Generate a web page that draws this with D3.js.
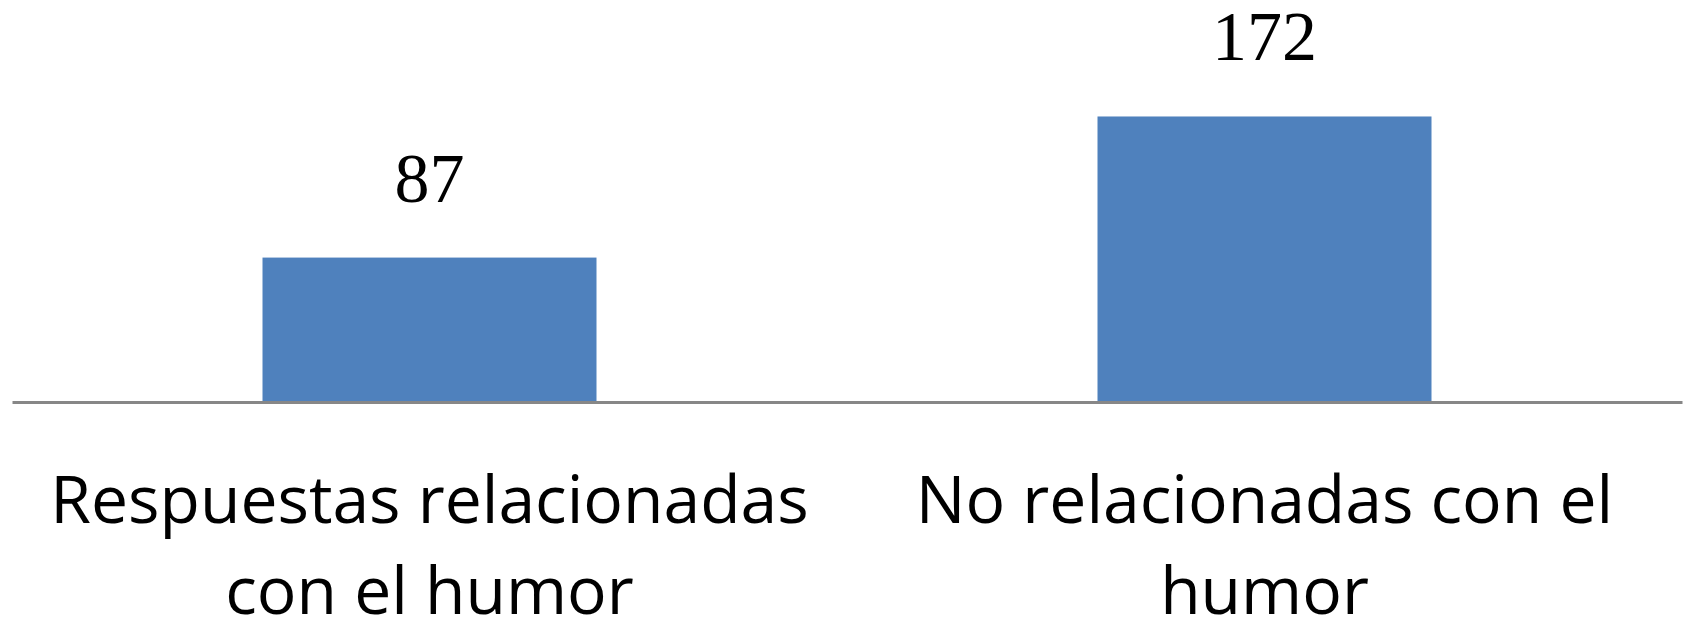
<!DOCTYPE html>
<html>
<head>
<meta charset="utf-8">
<script src="https://cdn.jsdelivr.net/npm/d3@7"></script>
<style>
  body { margin: 0; background: #fff; }
</style>
</head>
<body>
<script>
var w = 1684;
var h = 619;

// data
var categories = ["Respuestas relacionadas con el humor", "No relacionadas con el humor"];
var values = [87, 172];

var svg = d3.select("body")
    .append("svg")
    .attr("width", w)
    .attr("height", h);

var x = d3.scaleBand()
    .domain(categories)
    .range([12, 1682])
    .paddingInner(0.6)
    .paddingOuter(0.3);

var y = d3.scaleLinear()
    .domain([0, 200])
    .range([402, 70]);

// bars
svg.selectAll("rect.bar")
  .data(values)
  .enter().append("rect")
    .attr("class", "bar")
    .attr("x", function(d, i) { return x(categories[i]); })
    .attr("width", x.bandwidth())
    .attr("y", function(d) { return y(d); })
    .attr("height", function(d) { return y(0) - y(d); })
    .attr("fill", "#4F81BD");

// data labels
svg.selectAll("text.value")
  .data(values)
  .enter().append("text")
    .attr("class", "value")
    .attr("x", function(d, i) { return x(categories[i]) + x.bandwidth() / 2; })
    .attr("y", function(d) { return y(d) - 56; })
    .attr("text-anchor", "middle")
    .attr("font-family", "'Liberation Serif', 'Times New Roman', serif")
    .attr("font-size", 70)
    .attr("fill", "#000")
    .text(function(d) { return d; });

// category axis, just the baseline
var axis = svg.append("g")
    .attr("transform", "translate(0," + y(0) + ")")
    .call(d3.axisBottom(x).tickSize(0).tickFormat(""));
axis.select(".domain")
    .attr("stroke", "#878787")
    .attr("stroke-width", 3);

// category labels, wrapped to two lines
categories.forEach(function(cat) {
  var t = svg.append("text")
      .attr("text-anchor", "middle")
      .attr("font-family", "'Open Sans', sans-serif")
      .attr("font-size", 66)
      .attr("fill", "#000");
  var words = cat.split(" ");
  var line = [];
  var lineNo = 0;
  var tspan = t.append("tspan").attr("x", x(cat) + x.bandwidth() / 2).attr("y", 523);
  words.forEach(function(word) {
    line.push(word);
    tspan.text(line.join(" "));
    if (tspan.node().getComputedTextLength() > 800 && line.length > 1) {
      line.pop();
      tspan.text(line.join(" "));
      line = [word];
      lineNo++;
      tspan = t.append("tspan")
          .attr("x", x(cat) + x.bandwidth() / 2)
          .attr("y", 523 + lineNo * 91)
          .text(word);
    }
  });
});
</script>
</body>
</html>
